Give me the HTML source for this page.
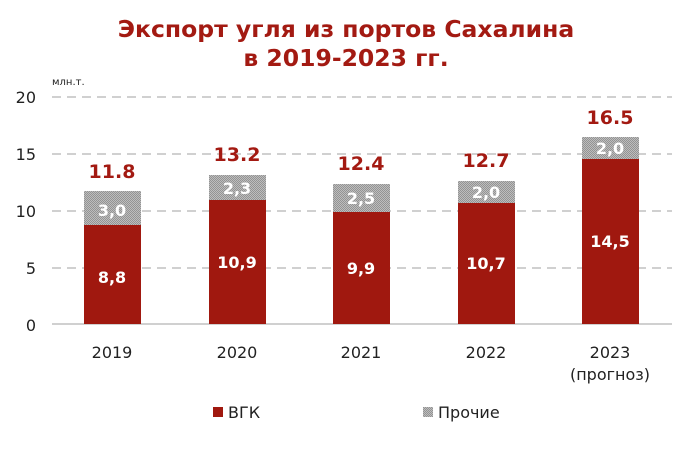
<!DOCTYPE html>
<html><head><meta charset="utf-8"><style>
body{margin:0;background:#fff;}
svg text{font-family:"DejaVu Sans",sans-serif;}
</style></head><body>
<svg width="696" height="444" viewBox="0 0 696 444" xmlns="http://www.w3.org/2000/svg">
<defs><pattern id="g" width="2" height="2" patternUnits="userSpaceOnUse"><rect width="2" height="2" fill="#bdbdbd"/><rect width="1" height="1" fill="#939393"/><rect x="1" y="1" width="1" height="1" fill="#939393"/></pattern></defs>
<text x="346" y="37" text-anchor="middle" font-size="23.5" font-weight="bold" fill="#a31a12">Экспорт угля из портов Сахалина</text>
<text x="346" y="66" text-anchor="middle" font-size="23.5" font-weight="bold" fill="#a31a12">в 2019-2023 гг.</text>
<text x="52" y="85" font-size="10" fill="#222">млн.т.</text>
<g stroke="#d0d0d0" stroke-width="2" stroke-dasharray="9,6">
<line x1="52" y1="97" x2="672" y2="97"/><line x1="52" y1="154" x2="672" y2="154"/><line x1="52" y1="211" x2="672" y2="211"/><line x1="52" y1="268" x2="672" y2="268"/></g>
<line x1="52" y1="324" x2="672" y2="324" stroke="#d0d0d0" stroke-width="2"/>
<g font-size="16" fill="#222" text-anchor="end">
<text x="36" y="103">20</text><text x="36" y="160">15</text><text x="36" y="217">10</text><text x="36" y="274">5</text><text x="36" y="331">0</text></g>
<rect x="84" y="225" width="57" height="99" fill="#a0180f"/><rect x="84" y="191" width="57" height="34" fill="url(#g)"/>
<rect x="209" y="200" width="57" height="124" fill="#a0180f"/><rect x="209" y="175" width="57" height="25" fill="url(#g)"/>
<rect x="333" y="212" width="57" height="112" fill="#a0180f"/><rect x="333" y="184" width="57" height="28" fill="url(#g)"/>
<rect x="458" y="203" width="57" height="121" fill="#a0180f"/><rect x="458" y="181" width="57" height="22" fill="url(#g)"/>
<rect x="582" y="159" width="57" height="165" fill="#a0180f"/><rect x="582" y="137" width="57" height="22" fill="url(#g)"/>
<g fill="#fff" font-size="16" font-weight="bold" text-anchor="middle">
<text x="112" y="216">3,0</text><text x="112" y="283">8,8</text>
<text x="237" y="194">2,3</text><text x="237" y="268">10,9</text>
<text x="361" y="204">2,5</text><text x="361" y="274">9,9</text>
<text x="486" y="198">2,0</text><text x="486" y="269">10,7</text>
<text x="610" y="154">2,0</text><text x="610" y="247">14,5</text></g>
<g fill="#a31a12" font-size="19" font-weight="bold" text-anchor="middle">
<text x="112" y="178">11.8</text><text x="237" y="161">13.2</text><text x="361" y="170">12.4</text><text x="486" y="167">12.7</text><text x="610" y="124">16.5</text></g>
<g fill="#222" font-size="16" text-anchor="middle">
<text x="112" y="358">2019</text><text x="237" y="358">2020</text><text x="361" y="358">2021</text><text x="486" y="358">2022</text><text x="610" y="358">2023</text><text x="610" y="380">(прогноз)</text></g>
<rect x="213" y="407" width="10" height="10" fill="#a0180f"/><text x="228" y="418" font-size="16" fill="#222">ВГК</text>
<rect x="423" y="407" width="10" height="10" fill="url(#g)"/><text x="438" y="418" font-size="16" fill="#222">Прочие</text>
</svg>
</body></html>
